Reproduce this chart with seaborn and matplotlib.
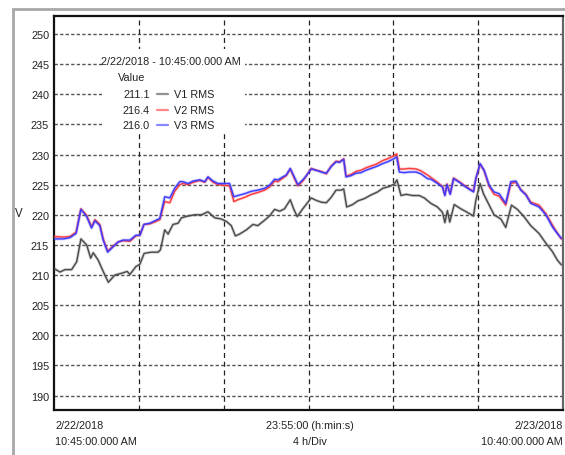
import matplotlib
matplotlib.use("Agg")
import matplotlib.pyplot as plt
import matplotlib.patheffects as pe
from matplotlib.patches import Rectangle
from matplotlib.lines import Line2D
import numpy as np
import pandas as pd
import seaborn as sns

# ---- data: hours elapsed since 2/22/2018 10:45:00 AM ----
t_v1 = [0.00, 0.28, 0.52, 0.83, 1.07, 1.27, 1.54, 1.73, 1.85, 2.08, 2.32, 2.56, 2.87, 3.19,
        3.45, 3.58, 3.86, 4.05, 4.25, 4.60, 4.91, 5.02, 5.22, 5.38, 5.61, 5.85, 6.01, 6.32,
        6.64, 6.95, 7.26, 7.58, 7.89, 8.13, 8.36, 8.55, 8.75, 9.07, 9.38, 9.61, 9.93, 10.16,
        10.40, 10.64, 10.87, 11.14, 11.31, 11.47, 11.73, 12.13, 12.36, 12.60, 12.84, 13.07,
        13.30, 13.54, 13.66, 13.80, 14.08, 14.32, 14.64, 14.95, 15.26, 15.50, 15.81, 16.05,
        16.17, 16.36, 16.60, 16.91, 17.22, 17.46, 17.77, 18.08, 18.32, 18.43, 18.55, 18.66,
        18.87, 19.18, 19.49, 19.78, 19.89, 20.09, 20.25, 20.52, 20.75, 21.07, 21.30, 21.57,
        21.85, 22.16, 22.48, 22.87, 23.19, 23.50, 23.73, 23.92]
v1 = [211.1, 210.5, 210.9, 210.9, 212.2, 216.0, 215.0, 212.8, 213.7, 212.5, 210.6, 208.8, 210.0, 210.3,
      210.6, 210.1, 211.4, 211.8, 213.6, 213.8, 213.8, 214.2, 217.5, 216.8, 218.4, 218.6, 219.5, 219.8,
      220.0, 220.0, 220.5, 219.5, 219.3, 218.9, 218.2, 216.5, 216.8, 217.5, 218.4, 218.2, 219.1, 219.8,
      220.9, 220.6, 221.0, 222.5, 220.9, 219.7, 221.0, 222.8, 222.4, 222.1, 222.0, 222.9,
      224.1, 224.1, 224.3, 221.3, 221.7, 222.3, 222.7, 223.3, 223.8, 224.4, 224.7, 225.1,
      225.8, 223.2, 223.4, 223.2, 223.2, 222.8, 221.9, 221.3, 220.4, 218.7, 220.7, 218.8,
      221.7, 221.0, 220.4, 219.8, 222.4, 225.2, 223.5, 221.6, 220.0, 219.3, 217.9, 221.6,
      220.9, 219.7, 218.2, 216.9, 215.3, 213.9, 212.5, 211.7]

t_v23 = [0.00, 0.44, 0.75, 1.04, 1.27, 1.54, 1.77, 1.93, 2.16, 2.32, 2.53, 2.79, 3.03, 3.26,
         3.58, 3.86, 4.05, 4.24, 4.52, 4.75, 4.99, 5.22, 5.46, 5.69, 5.93, 6.08, 6.32, 6.56,
         6.87, 7.11, 7.26, 7.50, 7.73, 8.05, 8.28, 8.48, 8.67, 8.99, 9.30, 9.61, 9.93, 10.16,
         10.40, 10.56, 10.79, 10.95, 11.14, 11.34, 11.50, 11.73, 11.81, 12.13, 12.36, 12.60,
         12.84, 13.07, 13.30, 13.46, 13.66, 13.77, 14.01, 14.24, 14.48, 14.71, 14.95, 15.19,
         15.50, 15.73, 15.97, 16.16, 16.28, 16.52, 16.75, 17.07, 17.30, 17.61, 17.77, 18.08,
         18.32, 18.43, 18.53, 18.68, 18.84, 19.11, 19.42, 19.78, 19.89, 20.09, 20.28, 20.52,
         20.75, 20.99, 21.30, 21.54, 21.78, 22.01, 22.25, 22.48, 22.87, 23.19, 23.50, 23.73, 23.92]
v2 = [216.4, 216.3, 216.4, 217.1, 221.0, 219.9, 218.0, 219.2, 218.4, 216.0, 214.0, 214.8, 215.5, 215.7,
      215.6, 216.5, 216.6, 218.4, 218.5, 218.8, 219.2, 222.2, 222.0, 223.9, 225.0, 225.2, 225.0, 225.4,
      225.7, 225.4, 226.2, 225.4, 225.0, 224.9, 224.8, 222.2, 222.5, 222.9, 223.4, 223.7, 224.1, 224.6,
      225.6, 225.5, 226.1, 226.5, 227.6, 226.0, 224.8, 225.6, 226.0, 227.7, 227.4, 227.2,
      226.8, 228.1, 228.9, 228.8, 229.3, 226.4, 226.7, 227.2, 227.4, 227.8, 228.1, 228.4,
      229.0, 229.3, 229.7, 230.1, 227.6, 227.6, 227.7, 227.6, 227.3, 226.6, 226.2, 225.4,
      224.7, 223.3, 225.1, 223.5, 226.1, 225.5, 224.7, 223.9, 226.0, 228.4, 227.3, 224.7,
      223.4, 223.1, 221.6, 225.2, 225.4, 224.2, 223.4, 222.1, 221.6, 220.2, 218.3, 217.0, 216.0]
v3 = [216.0, 216.0, 216.2, 216.9, 220.9, 219.7, 217.8, 219.0, 218.2, 215.8, 213.8, 214.7, 215.5, 215.8,
      215.8, 216.6, 216.6, 218.4, 218.6, 219.0, 219.4, 223.0, 222.8, 224.4, 225.5, 225.5, 225.2, 225.6,
      225.8, 225.5, 226.3, 225.6, 225.2, 225.2, 225.2, 223.0, 223.2, 223.5, 223.9, 224.1, 224.4, 224.9,
      225.9, 225.8, 226.3, 226.6, 227.7, 226.2, 225.0, 225.8, 226.1, 227.6, 227.4, 227.1,
      226.9, 228.0, 228.8, 228.7, 229.2, 226.3, 226.5, 226.9, 227.0, 227.4, 227.7, 228.0,
      228.5, 228.8, 229.2, 229.6, 227.1, 227.0, 227.1, 227.1, 226.8, 226.0, 225.9, 225.2,
      224.6, 223.2, 225.0, 223.4, 226.0, 225.4, 224.6, 223.8, 226.0, 228.5, 227.4, 224.9,
      223.8, 223.5, 221.9, 225.5, 225.6, 224.1, 223.3, 221.9, 221.3, 220.0, 218.0, 216.9, 216.1]

series_names = ["V1 RMS", "V2 RMS", "V3 RMS"]
series_colors = ["#4a4a4a", "#ff3b3b", "#3b3bff"]
y_ticks = list(range(190, 251, 5))
start_label = "2/22/2018 - 10:45:00.000 AM"
x_left = ["2/22/2018", "10:45:00.000 AM"]
x_mid = ["23:55:00 (h:min:s)", "4 h/Div"]
x_right = ["2/23/2018", "10:40:00.000 AM"]

df = pd.concat([
    pd.DataFrame({"hours": t_v1, "V": v1, "series": series_names[0]}),
    pd.DataFrame({"hours": t_v23, "V": v2, "series": series_names[1]}),
    pd.DataFrame({"hours": t_v23, "V": v3, "series": series_names[2]}),
], ignore_index=True)

sns.set_style("white")
plt.rcParams["font.family"] = ["Liberation Sans", "DejaVu Sans"]
FS = 7.8

W, H = 565, 456
fig = plt.figure(figsize=(W / 100, H / 100), dpi=100)


def fx(x):
    return x / W


def fy(y):
    return 1 - y / H


ax = fig.add_axes([fx(54), fy(411), fx(563) - fx(54), fy(17) - fy(411)])

sns.lineplot(data=df, x="hours", y="V", hue="series", palette=series_colors,
             hue_order=series_names, estimator=None, sort=False, linewidth=1.0,
             legend=False, ax=ax, zorder=3)
for line, c in zip(ax.get_lines(), series_colors):
    line.set_path_effects([pe.Stroke(linewidth=2.2, foreground=c, alpha=0.25), pe.Normal()])

ax.set_xlim(0, 24)
ax.set_ylim(187.6, 253)
ax.set_yticks(y_ticks)
ax.set_yticklabels([str(v) for v in y_ticks], fontsize=FS, color="#222222")
ax.set_xticks(np.arange(0, 25, 4))
ax.set_xticklabels([])
ax.tick_params(axis="x", length=0)
ax.tick_params(axis="y", length=2, width=0.8, pad=1.5, color="#222222")
ax.set_xlabel("")
ax.set_ylabel("")

# dashed grid
for yv in y_ticks:
    ax.axhline(yv, color="#555555", lw=1.0, dashes=(2.4, 1.6), zorder=1)
for xv in np.arange(4, 24, 4):
    ax.axvline(xv, color="#222222", lw=0.9, dashes=(4.0, 3.0), zorder=1)

for side in ["left", "bottom", "top"]:
    ax.spines[side].set_color("#111111")
    ax.spines[side].set_linewidth(1.6)
ax.spines["right"].set_color("#666666")
ax.spines["right"].set_linewidth(1.6)

# outer frame of the instrument panel
fig.patches.append(Rectangle((fx(13), fy(470)), fx(600), fy(10) - fy(470),
                             transform=fig.transFigure, fill=False,
                             edgecolor="#a8a8a8", linewidth=2.0))

# readout box at the cursor position
ax.add_patch(Rectangle((fx(102), fy(132)), fx(245) - fx(102), fy(50) - fy(132),
                       transform=fig.transFigure, facecolor="white",
                       edgecolor="none", zorder=4))
tkw = dict(transform=fig.transFigure, fontsize=FS, color="#222222", zorder=5, va="center")
ax.text(fx(171), fy(62), start_label, ha="center", **tkw)
ax.text(fx(118), fy(78), "Value", ha="left", **tkw)
first_vals = [v1[0], v2[0], v3[0]]
for i, (name, val, c) in enumerate(zip(series_names, first_vals, series_colors)):
    yy = 95 + i * 15.5
    ax.text(fx(150), fy(yy), f"{val:.1f}", ha="right", **tkw)
    ax.add_line(Line2D([fx(157), fx(168)], [fy(yy), fy(yy)], transform=fig.transFigure,
                       color=c, lw=1.6, alpha=0.6, zorder=5))
    ax.text(fx(174), fy(yy), name, ha="left", **tkw)

fig.text(fx(19), fy(214), "V", fontsize=FS + 0.5, color="#222222", ha="center", va="center")

lkw = dict(transform=fig.transFigure, fontsize=FS, color="#222222", va="center")
fig.text(fx(55), fy(426), x_left[0], ha="left", **lkw)
fig.text(fx(55), fy(442), x_left[1], ha="left", **lkw)
fig.text(fx(310), fy(426), x_mid[0], ha="center", **lkw)
fig.text(fx(310), fy(442), x_mid[1], ha="center", **lkw)
fig.text(fx(563), fy(426), x_right[0], ha="right", **lkw)
fig.text(fx(563), fy(442), x_right[1], ha="right", **lkw)

fig.savefig("out.png", dpi=100)
